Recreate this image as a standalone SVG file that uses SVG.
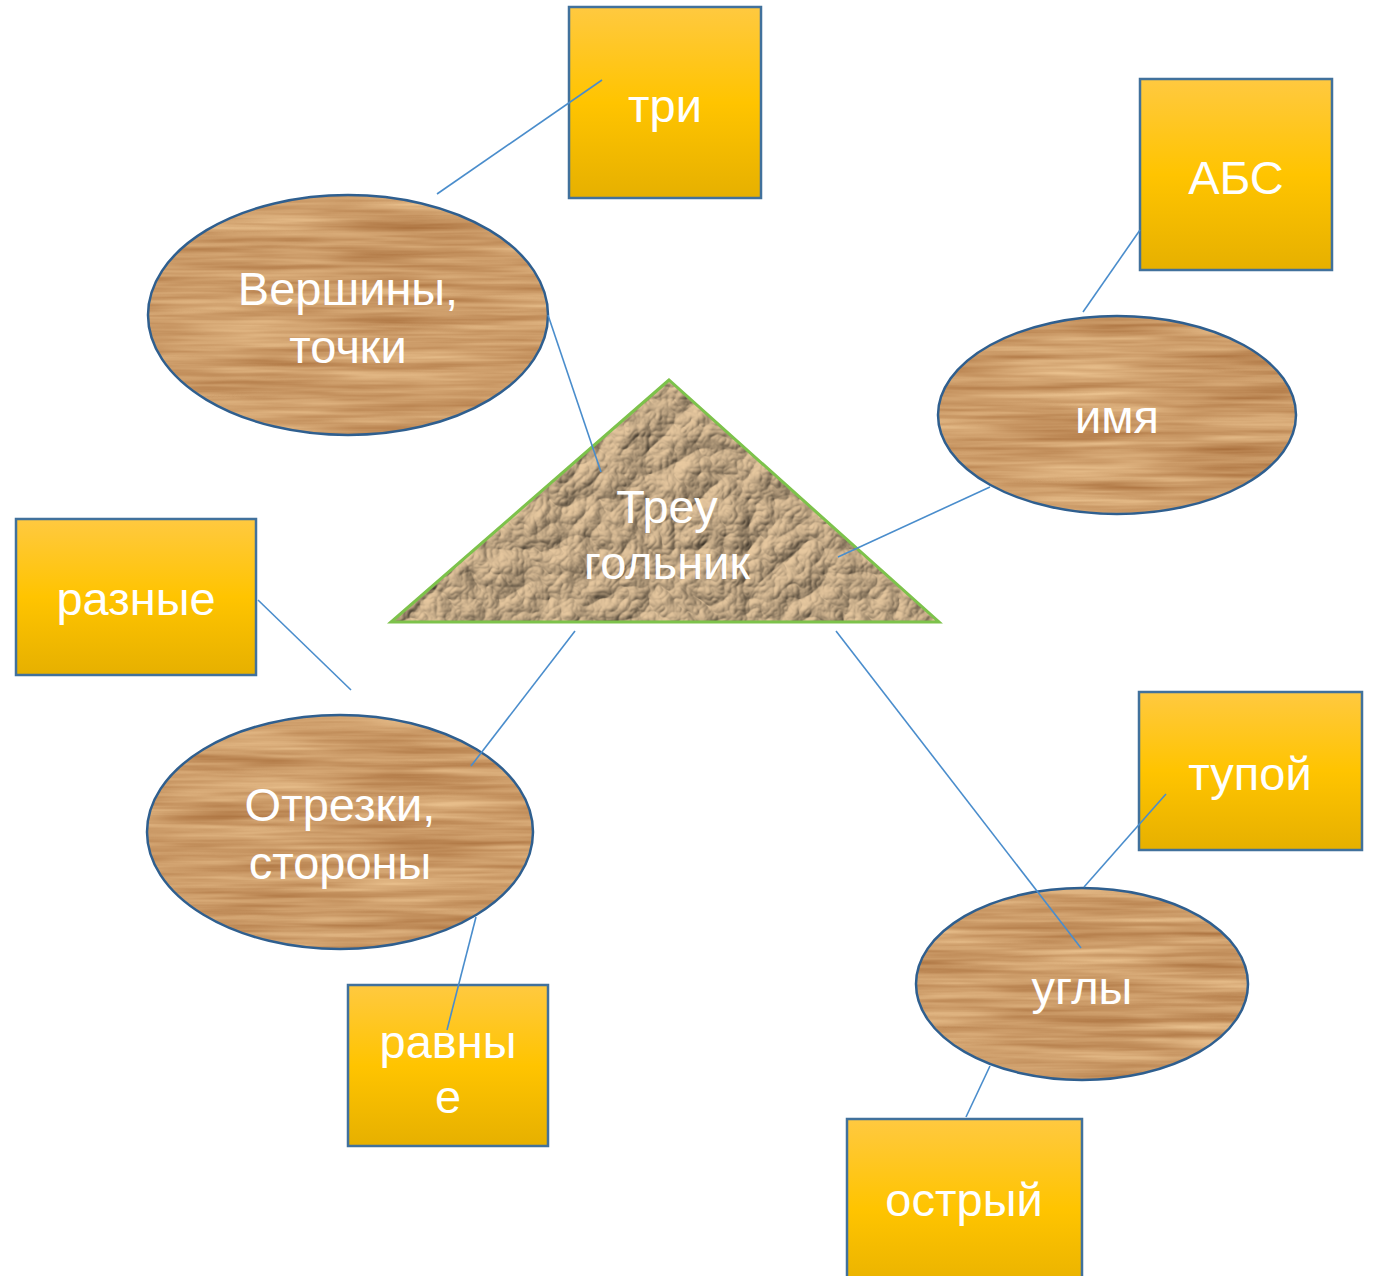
<svg xmlns="http://www.w3.org/2000/svg" width="1376" height="1276" viewBox="0 0 1376 1276">
<style>
.box{stroke:#41719c;stroke-width:2.5;fill:url(#gold)}
.ell{stroke:#2f5f8f;stroke-width:2.5}
.lbl{font-family:"Liberation Sans",Arial,sans-serif;font-size:47px;fill:#ffffff;text-anchor:middle}
.con{stroke:#4a8dcc;stroke-width:1.6;fill:none}
</style>
<defs>
<linearGradient id="gold" x1="0" y1="0" x2="0" y2="1">
<stop offset="0" stop-color="#ffc940"/>
<stop offset="0.5" stop-color="#ffc400"/>
<stop offset="1" stop-color="#e6b000"/>
</linearGradient>
<filter id="wood" x="0" y="0" width="1" height="1" color-interpolation-filters="sRGB">
<feTurbulence type="fractalNoise" baseFrequency="0.006 0.13" numOctaves="3" seed="4" result="n"/>
<feColorMatrix in="n" type="matrix" values="0.3 0 0 0 0.65  0.38 0 0 0 0.42  0.38 0 0 0 0.22  0 0 0 0 1" result="c"/>
<feComposite in="c" in2="SourceGraphic" operator="in"/>
</filter>
<filter id="paper" x="0" y="0" width="1" height="1" color-interpolation-filters="sRGB">
<feTurbulence type="turbulence" baseFrequency="0.02" numOctaves="4" seed="7" result="n"/>
<feDiffuseLighting in="n" surfaceScale="5" lighting-color="#e8c9a0" result="l">
<feDistantLight azimuth="225" elevation="55"/>
</feDiffuseLighting>
<feComposite in="l" in2="SourceGraphic" operator="in"/>
</filter>
</defs>

<g id="tri-box">
<rect class="box" x="569" y="7" width="192" height="191"/>
<text class="lbl" x="665" y="122">три</text>
</g>
<g id="abs-box">
<rect class="box" x="1140" y="79" width="192" height="191"/>
<text class="lbl" x="1236" y="194">АБС</text>
</g>
<g id="raznye-box">
<rect class="box" x="16" y="519" width="240" height="156"/>
<text class="lbl" x="136" y="615">разные</text>
</g>
<g id="tupoy-box">
<rect class="box" x="1139" y="692" width="223" height="158"/>
<text class="lbl" x="1250" y="790">тупой</text>
</g>
<g id="ravnye-box">
<rect class="box" x="348" y="985" width="200" height="161"/>
<text class="lbl" x="448" y="1058">равны</text>
<text class="lbl" x="448" y="1113">е</text>
</g>
<g id="ostryy-box">
<rect class="box" x="847" y="1119" width="235" height="180"/>
<text class="lbl" x="964" y="1216">острый</text>
</g>

<g id="vershiny">
<ellipse cx="348" cy="315" rx="200" ry="120" fill="#fff" filter="url(#wood)"/>
<ellipse class="ell" cx="348" cy="315" rx="200" ry="120" fill="none"/>
<text class="lbl" x="348" y="305">Вершины,</text>
<text class="lbl" x="348" y="363">точки</text>
</g>
<g id="imya">
<ellipse cx="1117" cy="415" rx="179" ry="99" fill="#fff" filter="url(#wood)"/>
<ellipse class="ell" cx="1117" cy="415" rx="179" ry="99" fill="none"/>
<text class="lbl" x="1117" y="433">имя</text>
</g>
<g id="otrezki">
<ellipse cx="340" cy="832" rx="193" ry="117" fill="#fff" filter="url(#wood)"/>
<ellipse class="ell" cx="340" cy="832" rx="193" ry="117" fill="none"/>
<text class="lbl" x="340" y="821">Отрезки,</text>
<text class="lbl" x="340" y="879">стороны</text>
</g>
<g id="ugly">
<ellipse cx="1082" cy="984" rx="166" ry="96" fill="#fff" filter="url(#wood)"/>
<ellipse class="ell" cx="1082" cy="984" rx="166" ry="96" fill="none"/>
<text class="lbl" x="1082" y="1004">углы</text>
</g>

<g id="treugolnik">
<polygon points="669,380 391,622 939,622" fill="#fff" filter="url(#paper)"/>
<polygon points="669,380 391,622 939,622" fill="none" stroke="#7dc24b" stroke-width="3"/>
<text class="lbl" x="667" y="523">Треу</text>
<text class="lbl" x="667" y="579">гольник</text>
</g>

<g id="connectors">
<line class="con" x1="437" y1="194" x2="602" y2="80"/>
<line class="con" x1="548" y1="315" x2="601" y2="472"/>
<line class="con" x1="1083" y1="312" x2="1140" y2="230"/>
<line class="con" x1="990" y1="487" x2="838" y2="557"/>
<line class="con" x1="258" y1="600" x2="351" y2="690"/>
<line class="con" x1="575" y1="631" x2="471" y2="766"/>
<line class="con" x1="836" y1="631" x2="1081" y2="948"/>
<line class="con" x1="1166" y1="794" x2="1084" y2="887"/>
<line class="con" x1="476" y1="917" x2="447" y2="1030"/>
<line class="con" x1="990" y1="1066" x2="966" y2="1117"/>
</g>
</svg>
